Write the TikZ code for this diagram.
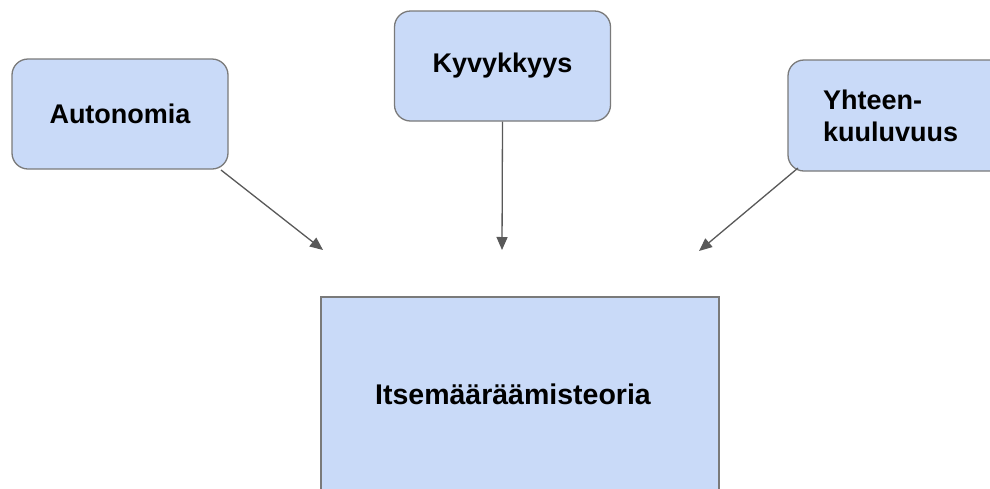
\documentclass[tikz,border=0pt]{standalone}
\usepackage{fontspec}
\setmainfont{Liberation Sans}
\usetikzlibrary{arrows.meta}
\definecolor{boxfill}{HTML}{C9DAF8}
\definecolor{boxline}{HTML}{7A7A7A}
\definecolor{arrowcol}{HTML}{595959}
\begin{document}
\begin{tikzpicture}[x=1pt,y=-1pt,
  roundbox/.style={draw=boxline, fill=boxfill, line width=1.3pt, rounded corners=16pt,
    minimum width=216pt, minimum height=110pt, font=\fontsize{27}{32}\selectfont\bfseries},
  mainbox/.style={draw=boxline, fill=boxfill, line width=1.3pt,
    minimum width=398pt, minimum height=195pt, font=\fontsize{28.5}{32}\selectfont\bfseries},
  conn/.style={draw=arrowcol, line width=1.3pt, -{Triangle[length=13pt,width=11pt]}}]
\useasboundingbox (0,0) rectangle (990,488);
\clip (0,0) rectangle (990,488);
\fill[white] (0,0) rectangle (990,488);
\node[roundbox] (aut) at (120,114) {Autonomia};
\node[roundbox] (kyv) at (502.5,66) {Kyvykkyys};
\node[roundbox, minimum width=218pt, minimum height=111pt, text width=148pt, inner xsep=35pt, align=left] (yht) at (897,115.5) {Yhteen-\\kuuluvuus};
\node[mainbox] (itse) at (520,394.5) {\hspace*{-14pt}Itsemääräämisteoria};
\coordinate (s1) at (221,170);
\coordinate (t1) at (323,250);
\coordinate (t2) at (502,250);
\coordinate (s3) at (798,168);
\coordinate (t3) at (699,251);
\draw[conn] (s1) -- (t1);
\draw[conn] (kyv.south) -- (t2);
\draw[conn] (s3) -- (t3);
\end{tikzpicture}
\end{document}
